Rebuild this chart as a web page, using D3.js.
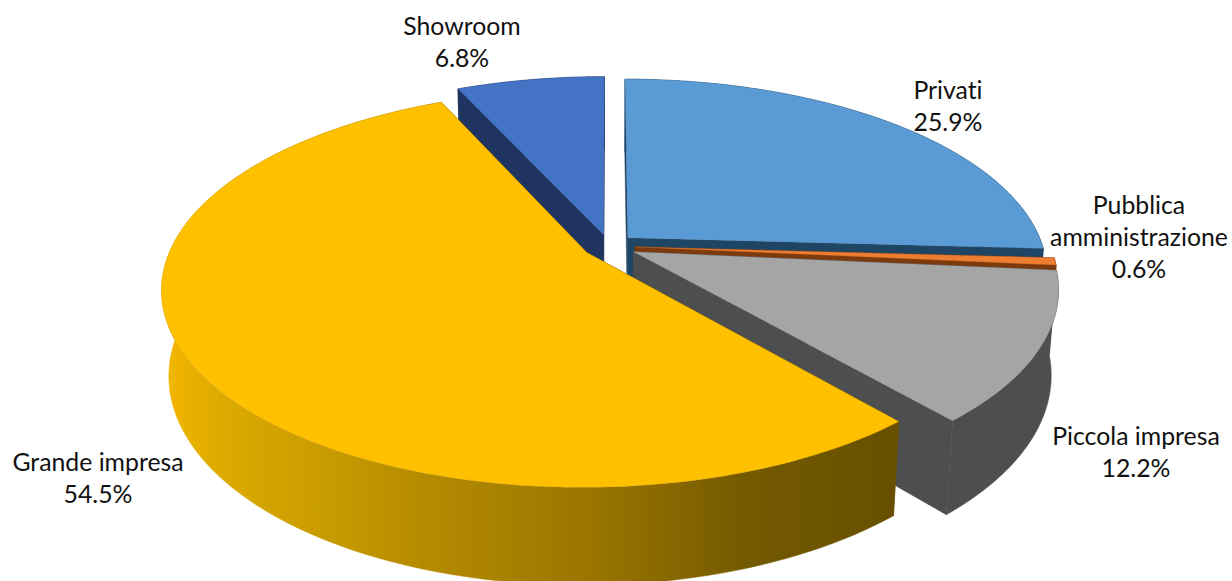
<!DOCTYPE html>
<html><head><meta charset="utf-8">
<script src="https://cdn.jsdelivr.net/npm/d3@7"></script>
<style>html,body{margin:0;padding:0;background:#fff;overflow:hidden}svg{display:block}text{font-family:Lato,"Open Sans",sans-serif;font-size:24.8px;fill:#111;font-variant-ligatures:none}</style>
</head><body><svg id="c" width="1232" height="581"></svg>
<script>
const categories = ["Privati","Pubblica amministrazione","Piccola impresa","Grande impresa","Showroom"];
const values = [25.9,0.6,12.2,54.5,6.8];
const valueLabels = ["25.9%","0.6%","12.2%","54.5%","6.8%"];
const labelLines = [["Privati"],["Pubblica","amministrazione"],["Piccola impresa"],["Grande impresa"],["Showroom"]];

const topColors = ["#5b9bd5","#ed7d31","#a5a5a5","#ffc000","#4472c4"];
const faceColors = ["#1f4564","#7d3a0c","#4d4e50","#6b5300","#1f3460"];
const labelAnchor = [[948,89],[1139,204],[1136,435],[98,461],[462,25]];
const lineStep = 32;
const explosions = [0.063,0.063,0.066,0.063,0.063];

const cx=609, cy=246, R=415, A=190, D=85, k=0.18, m=0.016;
const drawOrder=[0,4,1,2,3];

const svg=d3.select("#c");
const defs=svg.append("defs");
const g=defs.append("linearGradient").attr("id","wall3").attr("gradientUnits","userSpaceOnUse")
  .attr("x1",165).attr("x2",890).attr("y1",0).attr("y2",0);
[[0,"#f2b600"],[0.08,"#dcaa00"],[0.22,"#c89b00"],[0.36,"#b48b00"],[0.6,"#987400"],[0.8,"#745a00"],[1,"#685000"]]
  .forEach(([o,c])=>g.append("stop").attr("offset",o).attr("stop-color",c));

function project(X,Y,Z){
  const s=1/(1-k*Y+m*Z);
  return [cx+R*X*s, cy+(A*Y+D*Z)*s];
}
const line=d3.line();
const slices=d3.pie().sort(null).value(d=>d)(values);

function wedge(i){
  const a0=slices[i].startAngle,a1=slices[i].endAngle,mid=(a0+a1)/2;
  const ox=Math.sin(mid)*explosions[i],oy=-Math.cos(mid)*explosions[i];
  const pt=(a,Z)=>project(ox+Math.sin(a),oy-Math.cos(a),Z);
  const apex=Z=>project(ox,oy,Z);
  const angs=d3.range(0,121).map(t=>a0+(a1-a0)*t/120);
  return {a0,a1,pt,apex,angs};
}
const layer=svg.append("g");
drawOrder.forEach(i=>{
  const w=wedge(i);
  const wallFill=i===3?"url(#wall3)":faceColors[i];
  [w.a0,w.a1].forEach(a=>{
    layer.append("path").attr("fill",faceColors[i]).attr("stroke",faceColors[i]).attr("stroke-width",0.5)
      .attr("d",line([w.apex(0),w.pt(a,0),w.pt(a,1),w.apex(1)])+"Z");
  });
  const wall=w.angs.map(a=>w.pt(a,0)).concat(w.angs.slice().reverse().map(a=>w.pt(a,1)));
  layer.append("path").attr("fill",wallFill).attr("stroke",wallFill).attr("stroke-width",0.5).attr("d",line(wall)+"Z");
  const top=[w.apex(0)].concat(w.angs.map(a=>w.pt(a,0)));
  layer.append("path").attr("fill",topColors[i]).attr("stroke",d3.color(topColors[i]).darker(0.6)).attr("stroke-width",0.5).attr("stroke-opacity",0.6)
    .attr("d",line(top)+"Z");
});
const labels=svg.append("g").attr("text-anchor","middle");
categories.forEach((c,i)=>{
  const [x,y]=labelAnchor[i];
  const rows=labelLines[i].concat([valueLabels[i]]);
  rows.forEach((t,j)=>labels.append("text").attr("x",x).attr("y",y+j*lineStep).attr("dominant-baseline","central").text(t));
});
</script></body></html>
